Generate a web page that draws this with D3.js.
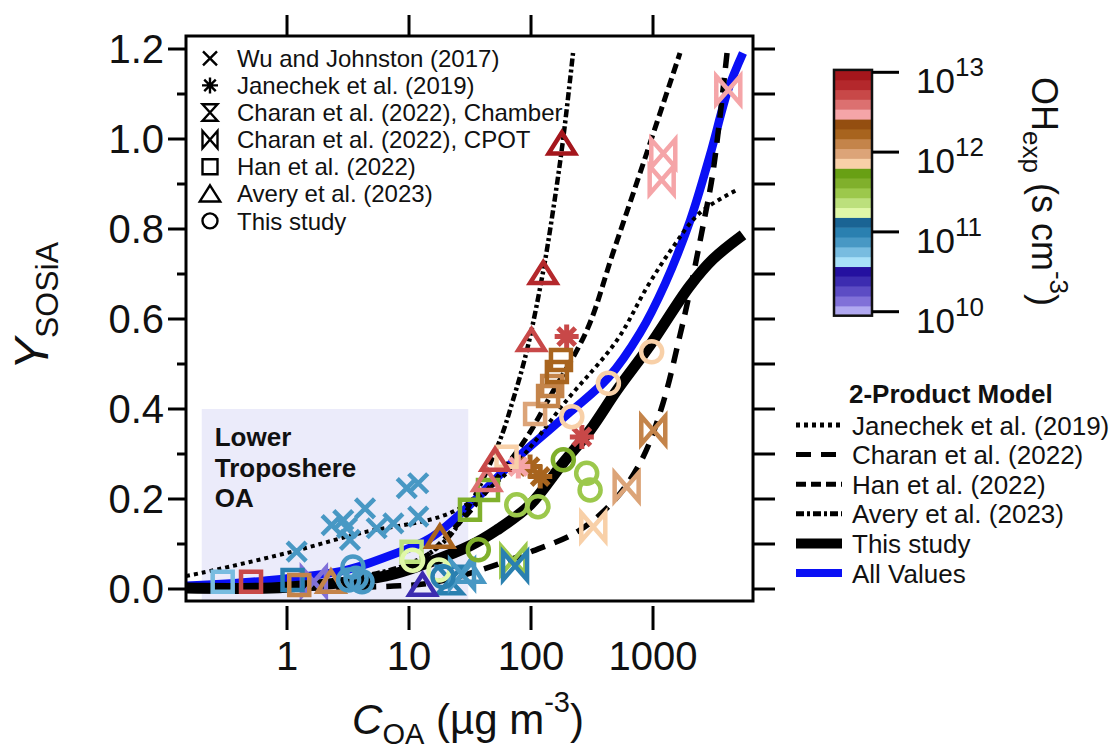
<!DOCTYPE html>
<html>
<head>
<meta charset="utf-8">
<script src="https://cdn.jsdelivr.net/npm/d3@7"></script>
<style>
  body { margin: 0; background: #fff; }
  svg { display: block; font-family: "Liberation Sans", Arial, sans-serif; }
</style>
</head>
<body>
<svg id="chart" width="1118" height="751"></svg>
<script>
// ---------- data ----------
const xTicks = [1, 10, 100, 1000];
const yMajor = [0, 0.2, 0.4, 0.6, 0.8, 1.0, 1.2];
const yMinor = [0.1, 0.3, 0.5, 0.7, 0.9, 1.1];
const yRight = [0, 0.1, 0.2, 0.3, 0.4, 0.5, 0.6, 0.7, 0.8, 0.9, 1.0, 1.1, 1.2];
const ohTicks = [10, 11, 12, 13];          // log10 OHexp
const ohRange = [9.95, 13.03];             // log10 span of the colour bar
const ohColors = [
  "#b0a8f0", "#8070d8", "#5c4cc4", "#3c2cb0", "#2410a0",
  "#a8e0f8", "#78bce0", "#4898c4", "#2a80b0", "#1a6494",
  "#e0f8a8", "#bce07c", "#9cc84c", "#80b02c", "#68a014",
  "#f8d0a8", "#dca478", "#c4844a", "#a8641e", "#944e10",
  "#f5a5a8", "#dc7070", "#c84848", "#b4282c", "#a4161c"
];

// measurements: [C_OA, Y_SOSiA, log10 OHexp]
const wuJohnston = [
  [1.20, 0.083, 10.87], [2.32, 0.142, 10.87], [2.89, 0.153, 10.87], [3.10, 0.136, 10.87],
  [3.28, 0.109, 10.87], [4.36, 0.179, 10.87], [5.43, 0.135, 10.87], [7.44, 0.146, 10.87],
  [9.58, 0.224, 10.87], [11.9, 0.235, 10.87], [11.9, 0.161, 10.87]
];
const janechek = [
  [196, 0.561, 12.72], [261, 0.338, 12.72], [98.2, 0.272, 12.23], [119, 0.25, 12.23], [78.7, 0.272, 12.47]
];
const charanChamber = [[21.7, 0.02, 11.0]];
const charanCpot = [
  [1.66, 0.016, 10.13], [27.2, 0.033, 10.87], [71.6, 0.064, 11.49], [74, 0.051, 11.0],
  [324, 0.138, 11.86], [608, 0.227, 11.98], [1005, 0.353, 12.10],
  [1178, 0.909, 12.47], [1214, 0.968, 12.47], [4140, 1.109, 12.47]
];
const han = [
  [0.297, 0.016, 10.75], [0.507, 0.016, 12.72], [1.11, 0.02, 11.0], [1.26, 0.009, 12.10],
  [10.5, 0.083, 11.37], [31.6, 0.176, 11.61], [44.4, 0.22, 11.61], [63, 0.294, 11.86],
  [108, 0.389, 11.98], [138, 0.429, 12.10], [149, 0.451, 12.10], [163, 0.482, 12.23], [176, 0.509, 12.23]
];
const avery = [
  [2.29, 0.016, 12.10], [17.9, 0.116, 12.23], [12.9, 0.009, 10.38], [31.6, 0.038, 10.87],
  [43.4, 0.242, 12.60], [50.7, 0.287, 12.72], [101, 0.553, 12.72], [126, 0.702, 12.84], [179, 0.99, 12.97]
];
const thisStudy = [
  [3.47, 0.049, 10.87], [3.68, 0.024, 10.87], [4.12, 0.016, 10.87], [3.2, 0.02, 10.87],
  [10.7, 0.064, 11.24], [17.6, 0.042, 11.24], [19, 0.027, 11.0], [37, 0.087, 11.61],
  [76.4, 0.187, 11.49], [114, 0.183, 11.49], [184, 0.287, 11.61], [286, 0.257, 11.49],
  [305, 0.22, 11.49], [216, 0.383, 11.86], [431, 0.457, 11.86], [975, 0.527, 11.86]
];

// 2-product model curves: [C_OA, Y]
const janechekModel = [
  [0.149, 0.029], [0.201, 0.036], [1, 0.08], [3.97, 0.124], [21.7, 0.169], [63.6, 0.258],
  [197, 0.42], [507, 0.553], [894, 0.671], [1459, 0.76], [2427, 0.836], [4883, 0.887]
];
const charanModel = [
  [0.149, 0.0], [1.28, 0.002], [8.44, 0.007], [14.9, 0.013], [38.2, 0.042], [98.2, 0.082],
  [252, 0.131], [507, 0.204], [828, 0.293], [1208, 0.413], [1664, 0.564], [1935, 0.642],
  [2570, 0.807], [3104, 0.927], [4043, 1.191]
];
const hanModel = [
  [0.149, 0.0], [1, 0.007], [10, 0.049], [26.2, 0.149], [46.1, 0.227], [92.7, 0.338],
  [143, 0.427], [288, 0.576], [470, 0.747], [782, 0.924], [1664, 1.191]
];
const averyModel = [
  [0.149, 0.0], [1, 0.004], [10, 0.056], [20.1, 0.109], [33.5, 0.2], [55.7, 0.331],
  [71.2, 0.42], [92.7, 0.531], [125, 0.702], [151, 0.838], [183, 0.998], [221, 1.191]
];
const thisStudyModel = [
  [0.149, 0.002], [0.981, 0.004], [6.48, 0.029], [14.9, 0.06], [31.6, 0.096], [52.5, 0.131],
  [98.2, 0.187], [183, 0.28], [305, 0.353], [507, 0.442], [947, 0.542], [1999, 0.673],
  [3102, 0.733], [5466, 0.787]
];
const allValuesModel = [
  [0.149, 0.007], [0.636, 0.018], [3.04, 0.042], [6.48, 0.071], [14.9, 0.113], [31.6, 0.187],
  [73.9, 0.287], [209, 0.393], [428, 0.469], [782, 0.569], [1254, 0.678], [2011, 0.818],
  [2931, 0.964], [4120, 1.109], [5466, 1.191]
];

const lowerTropC = [0.2, 30.6];
const lowerTropY = 0.4;
const lowerTropLabel = ["Lower", "Troposhere", "OA"];

const studies = [
  { name: "Wu and Johnston (2017)", sym: "cross", pts: wuJohnston },
  { name: "Janechek et al. (2019)", sym: "asterisk", pts: janechek },
  { name: "Charan et al. (2022), Chamber", sym: "hourglass", pts: charanChamber },
  { name: "Charan et al. (2022), CPOT", sym: "bowtie", pts: charanCpot },
  { name: "Han et al. (2022)", sym: "square", pts: han },
  { name: "Avery et al. (2023)", sym: "triangle", pts: avery },
  { name: "This study", sym: "circle", pts: thisStudy }
];
const models = [
  { name: "Janechek et al. (2019)", key: "janechek", pts: janechekModel },
  { name: "Charan et al. (2022)", key: "charan", pts: charanModel },
  { name: "Han et al. (2022)", key: "han", pts: hanModel },
  { name: "Avery et al. (2023)", key: "avery", pts: averyModel },
  { name: "This study", key: "thisStudy", pts: thisStudyModel },
  { name: "All Values", key: "all", pts: allValuesModel }
];

// ---------- styles ----------
const lineStyle = {
  janechek:  { color: "#000", width: 4,   dash: "4,4" },
  charan:    { color: "#000", width: 5.5, dash: "15,10" },
  han:       { color: "#000", width: 5,   dash: "10,5" },
  avery:     { color: "#000", width: 4.5, dash: "8,3,3,3" },
  thisStudy: { color: "#000", width: 11,  dash: null },
  all:       { color: "#0a10f5", width: 8.5, dash: null }
};
const drawOrder = ["all", "thisStudy", "janechek", "charan", "han", "avery"];
const symSize = { cross: 9.5, asterisk: 12, hourglass: 12, bowtie: 12, square: 10, triangle: 11, circle: 10.5 };
const symStroke = { cross: 4.5, asterisk: 5, hourglass: 4.5, bowtie: 4.5, square: 4.5, triangle: 4.5, circle: 4.5 };
const legSize = { cross: 7, asterisk: 8, hourglass: 7.5, bowtie: 7.5, square: 7.5, triangle: 8.5, circle: 7.5 };

// ---------- layout ----------
const frame = { left: 186, right: 753, top: 36, bottom: 601 };
const x = d3.scaleLog().domain([0.1486, 6601]).range([frame.left, frame.right]);
const y = d3.scaleLinear().domain([-0.02667, 1.2289]).range([frame.bottom, frame.top]);
const ohColor = d3.scaleQuantize().domain(ohRange).range(ohColors);
const cb = d3.scaleLinear().domain([10, 13]).range([311.7, 72.3]);

const svg = d3.select("#chart");
svg.append("rect").attr("width", 1118).attr("height", 751).attr("fill", "#fff");

svg.append("defs").append("clipPath").attr("id", "plotClip")
  .append("rect")
  .attr("x", frame.left).attr("y", frame.top)
  .attr("width", frame.right - frame.left).attr("height", frame.bottom - frame.top);

function symbolPath(type, s) {
  switch (type) {
    case "cross":
      return `M${-s},${-s}L${s},${s}M${-s},${s}L${s},${-s}`;
    case "asterisk": {
      const d = s * 0.72;
      return `M0,${-s}V${s}M${-s},0H${s}M${-d},${-d}L${d},${d}M${-d},${d}L${d},${-d}`;
    }
    case "hourglass": {
      const h = s * 1.1;
      return `M${-s},${-h}H${s}L${-s},${h}H${s}Z`;
    }
    case "bowtie": {
      const h = s * 1.15;
      return `M${-s},${-h}L${s},${h}V${-h}L${-s},${h}Z`;
    }
    case "square":
      return `M${-s},${-s}H${s}V${s}H${-s}Z`;
    case "triangle":
      return `M0,${-s * 1.0}L${s * 1.2},${s * 0.9}H${-s * 1.2}Z`;
    case "circle":
      return `M${s},0A${s},${s} 0 1,1 ${-s},0A${s},${s} 0 1,1 ${s},0Z`;
  }
}

// lower troposphere box
const plot = svg.append("g").attr("clip-path", "url(#plotClip)");
plot.append("rect")
  .attr("x", x(lowerTropC[0]))
  .attr("y", y(lowerTropY))
  .attr("width", x(lowerTropC[1]) - x(lowerTropC[0]))
  .attr("height", frame.bottom - y(lowerTropY))
  .attr("fill", "#ebebfa");

const boxText = svg.append("text")
  .attr("x", x(lowerTropC[0]) + 13)
  .attr("y", y(lowerTropY) + 37)
  .attr("font-size", 26).attr("font-weight", "bold").attr("fill", "#111");
lowerTropLabel.forEach((t, i) => {
  boxText.append("tspan").attr("x", x(lowerTropC[0]) + 13).attr("dy", i === 0 ? 0 : 30.5).text(t);
});

// model curves
const line = d3.line().x(d => x(d[0])).y(d => y(d[1])).curve(d3.curveCatmullRom.alpha(0.5));
drawOrder.forEach(k => {
  const m = models.find(mm => mm.key === k);
  const st = lineStyle[k];
  plot.append("path")
    .attr("d", line(m.pts))
    .attr("fill", "none")
    .attr("stroke", st.color)
    .attr("stroke-width", st.width)
    .attr("stroke-dasharray", st.dash)
    .attr("stroke-linejoin", "round");
});

// measurement markers
studies.forEach(s => {
  plot.append("g").selectAll("path")
    .data(s.pts)
    .join("path")
    .attr("transform", d => `translate(${x(d[0])},${y(d[1])})`)
    .attr("d", symbolPath(s.sym, symSize[s.sym]))
    .attr("fill", "none")
    .attr("stroke", d => ohColor(d[2]))
    .attr("stroke-width", symStroke[s.sym])
    .attr("stroke-linejoin", "miter");
});

// frame
svg.append("rect")
  .attr("x", frame.left).attr("y", frame.top)
  .attr("width", frame.right - frame.left).attr("height", frame.bottom - frame.top)
  .attr("fill", "none").attr("stroke", "#000").attr("stroke-width", 3);

const ticks = svg.append("g").attr("stroke", "#000").attr("stroke-width", 3);
// left axis
yMajor.forEach(v => ticks.append("line").attr("x1", frame.left - 18).attr("x2", frame.left).attr("y1", y(v)).attr("y2", y(v)));
yMinor.forEach(v => ticks.append("line").attr("x1", frame.left - 9).attr("x2", frame.left).attr("y1", y(v)).attr("y2", y(v)));
// right axis
yRight.forEach(v => ticks.append("line").attr("x1", frame.right).attr("x2", frame.right + 22).attr("y1", y(v)).attr("y2", y(v)));
// bottom + top axis
xTicks.forEach(v => {
  ticks.append("line").attr("x1", x(v)).attr("x2", x(v)).attr("y1", frame.bottom + 5).attr("y2", frame.bottom + 29);
  ticks.append("line").attr("x1", x(v)).attr("x2", x(v)).attr("y1", frame.top).attr("y2", frame.top - 21);
});

svg.append("g").selectAll("text").data(yMajor).join("text")
  .attr("x", frame.left - 22).attr("y", d => y(d) + 14)
  .attr("text-anchor", "end").attr("font-size", 40).attr("fill", "#111")
  .text(d => d.toFixed(1));

svg.append("g").selectAll("text").data(xTicks).join("text")
  .attr("x", d => x(d)).attr("y", 670)
  .attr("text-anchor", "middle").attr("font-size", 40).attr("fill", "#111")
  .text(d => d3.format("d")(d));

// axis titles
const xt = svg.append("text").attr("x", 468).attr("y", 734).attr("text-anchor", "middle")
  .attr("font-size", 42).attr("fill", "#111");
xt.append("tspan").attr("font-style", "italic").text("C");
xt.append("tspan").attr("font-size", 29).attr("dy", 10).text("OA");
xt.append("tspan").attr("dy", -10).text(" (µg m");
xt.append("tspan").attr("font-size", 29).attr("dy", -22).text("-3");
xt.append("tspan").attr("dy", 22).text(")");

const yt = svg.append("text").attr("transform", "translate(48,306) rotate(-90)")
  .attr("text-anchor", "middle").attr("font-size", 48).attr("fill", "#111");
yt.append("tspan").attr("font-style", "italic").text("Y");
yt.append("tspan").attr("font-size", 32).attr("dy", 10).text("SOSiA");

// symbol legend
const leg = svg.append("g");
studies.forEach((s, i) => {
  const cy = 58.3 + i * 27.1;
  leg.append("path")
    .attr("transform", `translate(210,${cy})`)
    .attr("d", symbolPath(s.sym, legSize[s.sym]))
    .attr("fill", "none").attr("stroke", "#000").attr("stroke-width", 2.4);
  leg.append("text").attr("x", 237).attr("y", cy + 8.6)
    .attr("font-size", 24).attr("fill", "#111").text(s.name);
});

// model legend
const mleg = svg.append("g");
mleg.append("text").attr("x", 849).attr("y", 403)
  .attr("font-size", 26).attr("font-weight", "bold").attr("fill", "#111").text("2-Product Model");
models.forEach((m, i) => {
  const cy = 425 + i * 29.6;
  const st = lineStyle[m.key];
  mleg.append("line").attr("x1", 796).attr("x2", 842).attr("y1", cy).attr("y2", cy)
    .attr("stroke", st.color)
    .attr("stroke-width", m.key === "thisStudy" ? 10 : (m.key === "all" ? 8 : 5))
    .attr("stroke-dasharray", st.dash);
  mleg.append("text").attr("x", 852).attr("y", cy + 9.5)
    .attr("font-size", 26).attr("fill", "#111").text(m.name);
});

// colour bar
const nb = ohColors.length;
const bw = (ohRange[1] - ohRange[0]) / nb;
const cbar = svg.append("g");
cbar.selectAll("rect").data(ohColors).join("rect")
  .attr("x", 834).attr("width", 38)
  .attr("y", (c, i) => cb(ohRange[0] + (i + 1) * bw))
  .attr("height", (c, i) => cb(ohRange[0] + i * bw) - cb(ohRange[0] + (i + 1) * bw) + 0.5)
  .attr("fill", c => c);
cbar.append("rect")
  .attr("x", 834).attr("width", 38)
  .attr("y", cb(ohRange[1])).attr("height", cb(ohRange[0]) - cb(ohRange[1]))
  .attr("fill", "none").attr("stroke", "#111").attr("stroke-width", 2.5);
ohTicks.forEach(t => {
  cbar.append("line").attr("x1", 872).attr("x2", 899).attr("y1", cb(t)).attr("y2", cb(t))
    .attr("stroke", "#000").attr("stroke-width", 3);
  const lt = cbar.append("text").attr("x", 916).attr("y", cb(t) + 21)
    .attr("font-size", 35).attr("fill", "#111");
  lt.append("tspan").text("10");
  lt.append("tspan").attr("font-size", 26).attr("dy", -17).text(String(t));
});
const ot = svg.append("text").attr("transform", "translate(1032,77) rotate(90)")
  .attr("font-size", 36).attr("fill", "#111");
ot.append("tspan").text("OH");
ot.append("tspan").attr("font-size", 26).attr("dy", 9).text("exp");
ot.append("tspan").attr("dy", -9).text(" (s cm");
ot.append("tspan").attr("font-size", 26).attr("dy", -18).text("-3");
ot.append("tspan").attr("dy", 18).text(")");
</script>
</body>
</html>
